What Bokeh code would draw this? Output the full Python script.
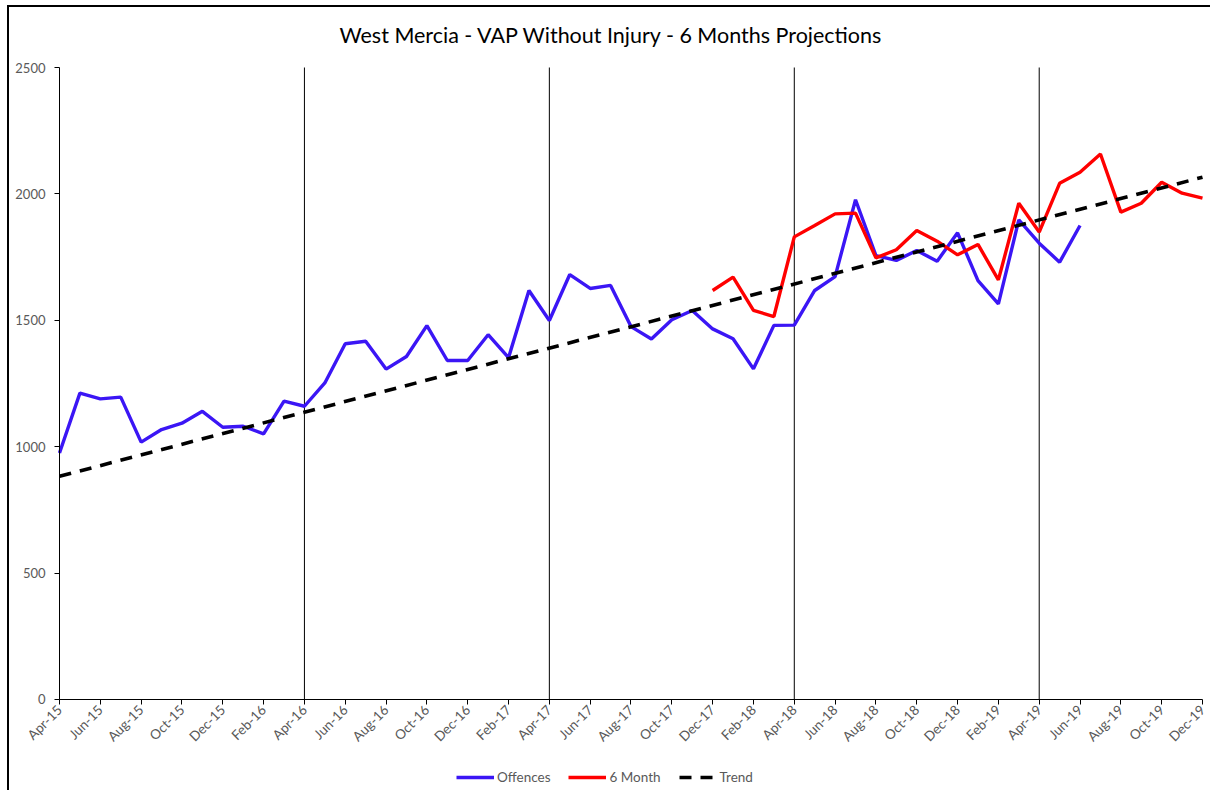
from bokeh.plotting import figure
from bokeh.models import FixedTicker, Legend, LegendItem
from bokeh.embed import file_html
from bokeh.resources import INLINE
import math

months = ["Apr-15", "May-15", "Jun-15", "Jul-15", "Aug-15", "Sep-15", "Oct-15", "Nov-15", "Dec-15",
          "Jan-16", "Feb-16", "Mar-16", "Apr-16", "May-16", "Jun-16", "Jul-16", "Aug-16", "Sep-16",
          "Oct-16", "Nov-16", "Dec-16", "Jan-17", "Feb-17", "Mar-17", "Apr-17", "May-17", "Jun-17",
          "Jul-17", "Aug-17", "Sep-17", "Oct-17", "Nov-17", "Dec-17", "Jan-18", "Feb-18", "Mar-18",
          "Apr-18", "May-18", "Jun-18", "Jul-18", "Aug-18", "Sep-18", "Oct-18", "Nov-18", "Dec-18",
          "Jan-19", "Feb-19", "Mar-19", "Apr-19", "May-19", "Jun-19", "Jul-19", "Aug-19", "Sep-19",
          "Oct-19", "Nov-19", "Dec-19"]

offences = [975, 1212, 1189, 1196, 1018, 1068, 1093, 1140, 1077, 1081, 1051, 1180, 1160,
            1252, 1407, 1417, 1307, 1357, 1479, 1341, 1341, 1443, 1352, 1618, 1499, 1681,
            1626, 1638, 1475, 1426, 1502, 1539, 1466, 1427, 1308, 1480, 1481, 1618, 1673,
            1977, 1756, 1737, 1776, 1734, 1846, 1657, 1565, 1897, 1805, 1730, 1875]

six_month_start = "Dec-17"
six_month = [1618, 1671, 1539, 1515, 1830, 1875, 1921, 1924, 1747, 1779, 1855, 1813, 1759,
             1800, 1660, 1963, 1849, 2042, 2086, 2158, 1928, 1963, 2046, 2003, 1983]

trend_months = ["Apr-15", "Dec-19"]
trend_values = [883, 2066]

y_ticks = [0, 500, 1000, 1500, 2000, 2500]

idx = {m: i for i, m in enumerate(months)}
x_off = list(range(len(offences)))
s0 = idx[six_month_start]
x_six = list(range(s0, s0 + len(six_month)))
x_trend = [idx[m] for m in trend_months]
april_lines = [i for i, m in enumerate(months) if m.startswith("Apr") and i > 0]
last = len(months) - 1

FONT = "Lato"
GREY = "#595959"

# the frame is padded round the data area so that the axis labels and the legend sit inside it
p = figure(frame_width=1198, frame_height=733, output_backend="svg", toolbar_location=None,
           x_range=(-2.3027, last + 0.392), y_range=(-359.97, 2539.56),
           min_border_left=3, min_border_top=50, min_border_right=0, min_border_bottom=0)
p.styles = {"margin-top": "5px", "margin-left": "7px",
            "border-top": "2px solid black", "border-left": "2px solid black"}

p.title.text = "West Mercia - VAP Without Injury - 6 Months Projections"
p.title.align = "center"
p.title.text_font = FONT
p.title.text_font_size = "21.5px"
p.title.text_font_style = "normal"
p.title.text_color = "#000000"
p.title.offset = 0
p.title.standoff = 20

p.outline_line_color = None
p.xgrid.visible = False
p.ygrid.visible = False

p.segment(x0=april_lines, x1=april_lines, y0=[0] * len(april_lines), y1=[2500] * len(april_lines),
          line_color="black", line_width=1)

r_off = p.line(x_off, offences, line_color="#3B16F5", line_width=3.4)
r_six = p.line(x_six, six_month, line_color="#FF0000", line_width=3.4)
r_tr = p.line(x_trend, trend_values, line_color="black", line_width=3.6, line_dash="12 9")

xa = p.xaxis[0]
xa.fixed_location = 0
xa.bounds = (0, last)
xa.ticker = FixedTicker(ticks=list(range(0, len(months), 2)))
xa.major_label_overrides = {i: months[i] for i in range(0, len(months), 2)}
xa.major_label_orientation = math.pi / 4
xa.major_label_text_font = FONT
xa.major_label_text_font_size = "13.5px"
xa.major_label_text_color = GREY
xa.axis_line_color = "black"
xa.major_tick_line_color = "black"
xa.major_tick_out = 5
xa.major_tick_in = 0
xa.minor_tick_line_color = None
xa.major_label_standoff = 3

ya = p.yaxis[0]
ya.fixed_location = 0
ya.bounds = (0, 2500)
ya.ticker = FixedTicker(ticks=y_ticks)
ya.major_label_text_font = FONT
ya.major_label_text_font_size = "13px"
ya.major_label_text_color = GREY
ya.axis_line_color = "black"
ya.major_tick_line_color = "black"
ya.major_tick_out = 5
ya.major_tick_in = 0
ya.minor_tick_line_color = None
ya.major_label_standoff = 9

legend = Legend(items=[LegendItem(label="Offences", renderers=[r_off]),
                       LegendItem(label="6 Month", renderers=[r_six]),
                       LegendItem(label="Trend", renderers=[r_tr])],
                orientation="horizontal", location=(444, 5),
                label_text_font=FONT, label_text_font_size="13.5px", label_text_color=GREY,
                glyph_width=38, glyph_height=16, label_height=16,
                label_standoff=3, spacing=18, padding=0, margin=0,
                border_line_color=None, background_fill_alpha=0)
p.add_layout(legend, "center")

open("out.html", "w").write(file_html(p, INLINE))
